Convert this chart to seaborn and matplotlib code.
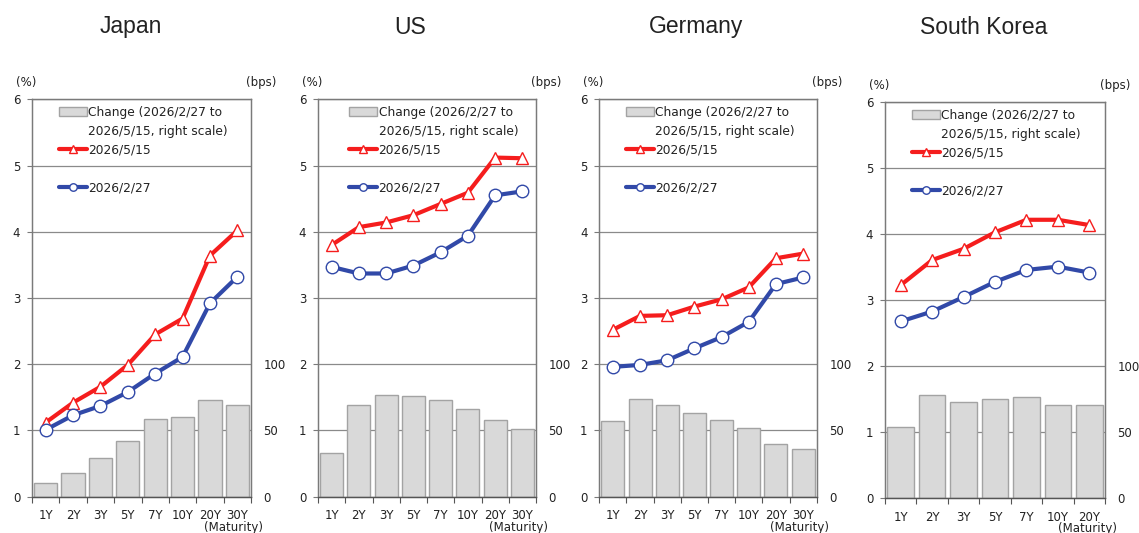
import numpy as np
import pandas as pd
import matplotlib
matplotlib.use("Agg")
import matplotlib.pyplot as plt
from matplotlib.patches import Patch
import seaborn as sns

# ---- data -------------------------------------------------------------
maturities_8 = ["1Y", "2Y", "3Y", "5Y", "7Y", "10Y", "20Y", "30Y"]
maturities_7 = ["1Y", "2Y", "3Y", "5Y", "7Y", "10Y", "20Y"]

# Government bond yields (%) on each date; change in bps
japan_0515 = [1.12, 1.42, 1.66, 1.99, 2.45, 2.69, 3.64, 4.02]
japan_0227 = [1.01, 1.23, 1.37, 1.58, 1.86, 2.11, 2.92, 3.32]
japan_change = [10, 18, 29, 42, 59, 60, 73, 69]

us_0515 = [3.80, 4.07, 4.14, 4.25, 4.42, 4.59, 5.12, 5.11]
us_0227 = [3.47, 3.37, 3.37, 3.49, 3.69, 3.94, 4.55, 4.61]
us_change = [33, 69, 77, 76, 73, 66, 58, 51]

germany_0515 = [2.52, 2.73, 2.74, 2.87, 2.98, 3.16, 3.60, 3.67]
germany_0227 = [1.96, 1.99, 2.06, 2.24, 2.41, 2.64, 3.21, 3.31]
germany_change = [57, 74, 69, 63, 58, 52, 40, 36]

korea_0515 = [3.23, 3.61, 3.78, 4.03, 4.22, 4.22, 4.14]
korea_0227 = [2.68, 2.83, 3.05, 3.28, 3.46, 3.51, 3.42]
korea_change = [54, 78, 73, 75, 77, 71, 71]

titles = ["Japan", "US", "Germany", "South Korea"]
label_change = ["Change (2026/2/27 to", "2026/5/15, right scale)"]
label_new = "2026/5/15"
label_old = "2026/2/27"

# ---- style --------------------------------------------------------------
sns.set_theme(style="white")
plt.rcParams["font.family"] = ["DejaVu Sans"]
plt.rcParams["axes.linewidth"] = 1.0

RED = "#f51d1d"
BLUE = "#3149a8"
BAR_FACE = "#d9d9d9"
BAR_EDGE = "#a3a3a3"
GRID = "#8a8a8a"
SPINE = "#7a7a7a"
TXT = "#222222"

W, H = 1139, 533
fig = plt.figure(figsize=(W / 100, H / 100), dpi=100)


def px_rect(left, right, top, bottom):
    return [left / W, 1 - bottom / H, (right - left) / W, (bottom - top) / H]


panels = [
    dict(rect=px_rect(32, 251, 99.3, 496.7), tx=131, mats=maturities_8,
         new=japan_0515, old=japan_0227, chg=japan_change, legx=0.123),
    dict(rect=px_rect(318, 536, 99.3, 496.7), tx=410, mats=maturities_8,
         new=us_0515, old=us_0227, chg=us_change, legx=0.143),
    dict(rect=px_rect(599.3, 816.7, 99.3, 496.7), tx=696, mats=maturities_8,
         new=germany_0515, old=germany_0227, chg=germany_change, legx=0.123),
    dict(rect=px_rect(885, 1105, 102.3, 498.3), tx=984, mats=maturities_7,
         new=korea_0515, old=korea_0227, chg=korea_change, legx=0.122),
]

for title, p in zip(titles, panels):
    ax = fig.add_axes(p["rect"])
    ax2 = ax.twinx()
    n = len(p["mats"])
    pos = np.arange(n)

    # bars: change in bps on the right scale
    df_bar = pd.DataFrame({"maturity": p["mats"], "change": p["chg"]})
    sns.barplot(data=df_bar, x="maturity", y="change", ax=ax2, color=BAR_FACE,
                saturation=1, width=0.85, edgecolor=BAR_EDGE, linewidth=1.0,
                errorbar=None)
    bars = ax2.containers[0]

    # yield curves on the left scale
    sns.lineplot(x=pos, y=p["new"], ax=ax, color=RED, linewidth=3,
                 marker="^", markersize=8.5, markerfacecolor="white",
                 markeredgecolor=RED, markeredgewidth=1.0, errorbar=None,
                 legend=False, zorder=3)
    sns.lineplot(x=pos, y=p["old"], ax=ax, color=BLUE, linewidth=3,
                 marker="o", markersize=9, markerfacecolor="white",
                 markeredgecolor=BLUE, markeredgewidth=1.0, errorbar=None,
                 legend=False, zorder=4)
    line_new, line_old = ax.get_lines()[0], ax.get_lines()[1]

    ax.set_zorder(ax2.get_zorder() + 1)
    ax.patch.set_visible(False)

    ax.set_xlim(-0.5, n - 0.5)
    ax.set_ylim(0, 6)
    ax2.set_ylim(0, 300)

    # left axis (%)
    ax.set_yticks(range(0, 7))
    ax.set_yticklabels([str(v) for v in range(0, 7)])
    ax.tick_params(axis="y", which="major", left=True, length=3.5, width=0.8,
                   color=SPINE, pad=5, labelsize=8.5, labelcolor=TXT)
    ax.grid(False)
    ax.set_ylabel("")
    ax.set_xlabel("")

    # right axis (bps): gridlines shared with the % scale, labels up to 100
    ticks_bps = list(range(0, 301, 50))
    ax2.set_yticks(ticks_bps)
    ax2.set_yticklabels([str(t) if t <= 100 else "" for t in ticks_bps])
    ax2.tick_params(axis="y", right=True, length=0, pad=9, labelsize=8.5,
                    labelcolor=TXT)
    ax2.yaxis.grid(True, color=GRID, linewidth=0.9)
    ax2.xaxis.grid(False)
    ax2.set_axisbelow(True)
    ax2.set_ylabel("")
    ax2.set_xlabel("")

    # x axis: labels at centres, tick marks at category boundaries
    ax.set_xticks(pos)
    ax.set_xticklabels(p["mats"])
    ax.set_xticks(np.arange(-0.5, n, 1.0), minor=True)
    ax.tick_params(axis="x", which="major", bottom=True, length=0, pad=9,
                   labelsize=8.5, labelcolor=TXT)
    ax.tick_params(axis="x", which="minor", bottom=True, length=4, width=0.8,
                   color="#555555")
    ax2.tick_params(axis="x", which="both", bottom=False, labelbottom=False)

    for a in (ax, ax2):
        for side in ("left", "right", "top"):
            a.spines[side].set_color(SPINE)
            a.spines[side].set_linewidth(0.9)
        a.spines["bottom"].set_color("#555555")
        a.spines["bottom"].set_linewidth(0.9)

    # unit labels
    ax.text(-0.027, 1.042, "(%)", transform=ax.transAxes, ha="center",
            va="center", fontsize=8.5, color=TXT)
    ax.text(1.046, 1.042, "(bps)", transform=ax.transAxes, ha="center",
            va="center", fontsize=8.5, color=TXT)
    ax.text(0.92, -0.06, "(Maturity)", transform=ax.transAxes, ha="center",
            va="top", fontsize=8.5, color=TXT)

    # legend
    blank = Patch(facecolor="none", edgecolor="none")
    handles = [bars, blank, line_new, blank, line_old]
    labels = [label_change[0], label_change[1], label_new, " ", label_old]
    ax.legend(handles=handles, labels=labels, loc="upper left",
              bbox_to_anchor=(p["legx"], 0.984), frameon=False, borderpad=0,
              borderaxespad=0, handlelength=2.3, handletextpad=0.1,
              labelspacing=0.49, fontsize=8.8, markerscale=0.6,
              labelcolor=TXT)

    fig.text(p["tx"] / W, 1 - 27 / H, title, ha="center", va="center",
             fontsize=16.5, color=TXT, family=["Liberation Sans"])

fig.savefig("out.png", dpi=100)
